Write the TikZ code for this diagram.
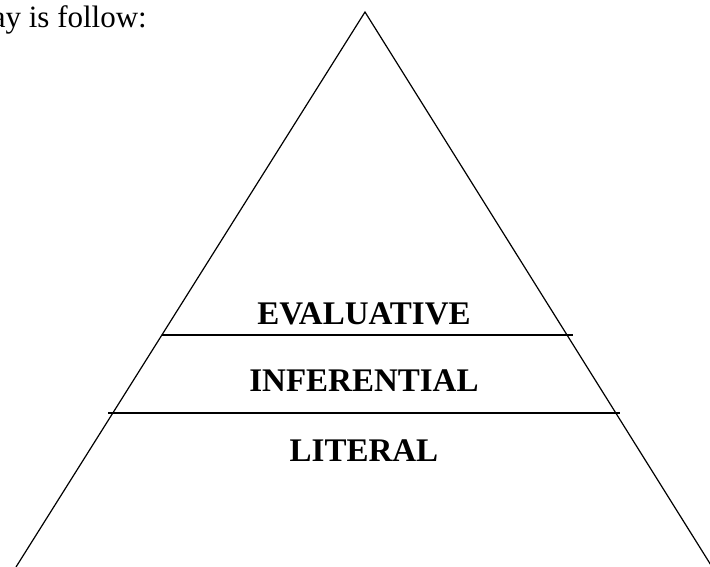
\documentclass[tikz,border=0pt]{standalone}
\usepackage{fontspec}
\setmainfont{Liberation Serif}
\begin{document}
\begin{tikzpicture}[x=1pt,y=-1pt,
  edge/.style={draw=black,line width=1.2pt},
  level/.style={font=\fontsize{33}{36}\selectfont\bfseries,inner sep=0pt,anchor=base},
  body/.style={font=\fontsize{31}{34}\selectfont,inner sep=0pt,anchor=base east}]
\useasboundingbox (0,0) rectangle (710,567);
\clip (0,0) rectangle (710,567);
% triangle
\coordinate (apex) at (365,12);
\coordinate (bl) at (16,567);
\coordinate (br) at (714,570);
\draw[edge] (bl) -- (apex) -- (br);
% dividing lines
\coordinate (e1) at (162,335);
\coordinate (e2) at (573,335);
\coordinate (i1) at (108,413);
\coordinate (i2) at (620,413);
\draw[edge] (e1) -- (e2);
\draw[edge] (i1) -- (i2);
% labels
\node[level] (eval) at (364,324) {EVALUATIVE};
\node[level] (infer) at (364,391) {INFERENTIAL};
\node[level] (lit) at (364,461) {LITERAL};
% intro text
\node[body] (intro) at (147,28) {ay is follow:};
\end{tikzpicture}
\end{document}
